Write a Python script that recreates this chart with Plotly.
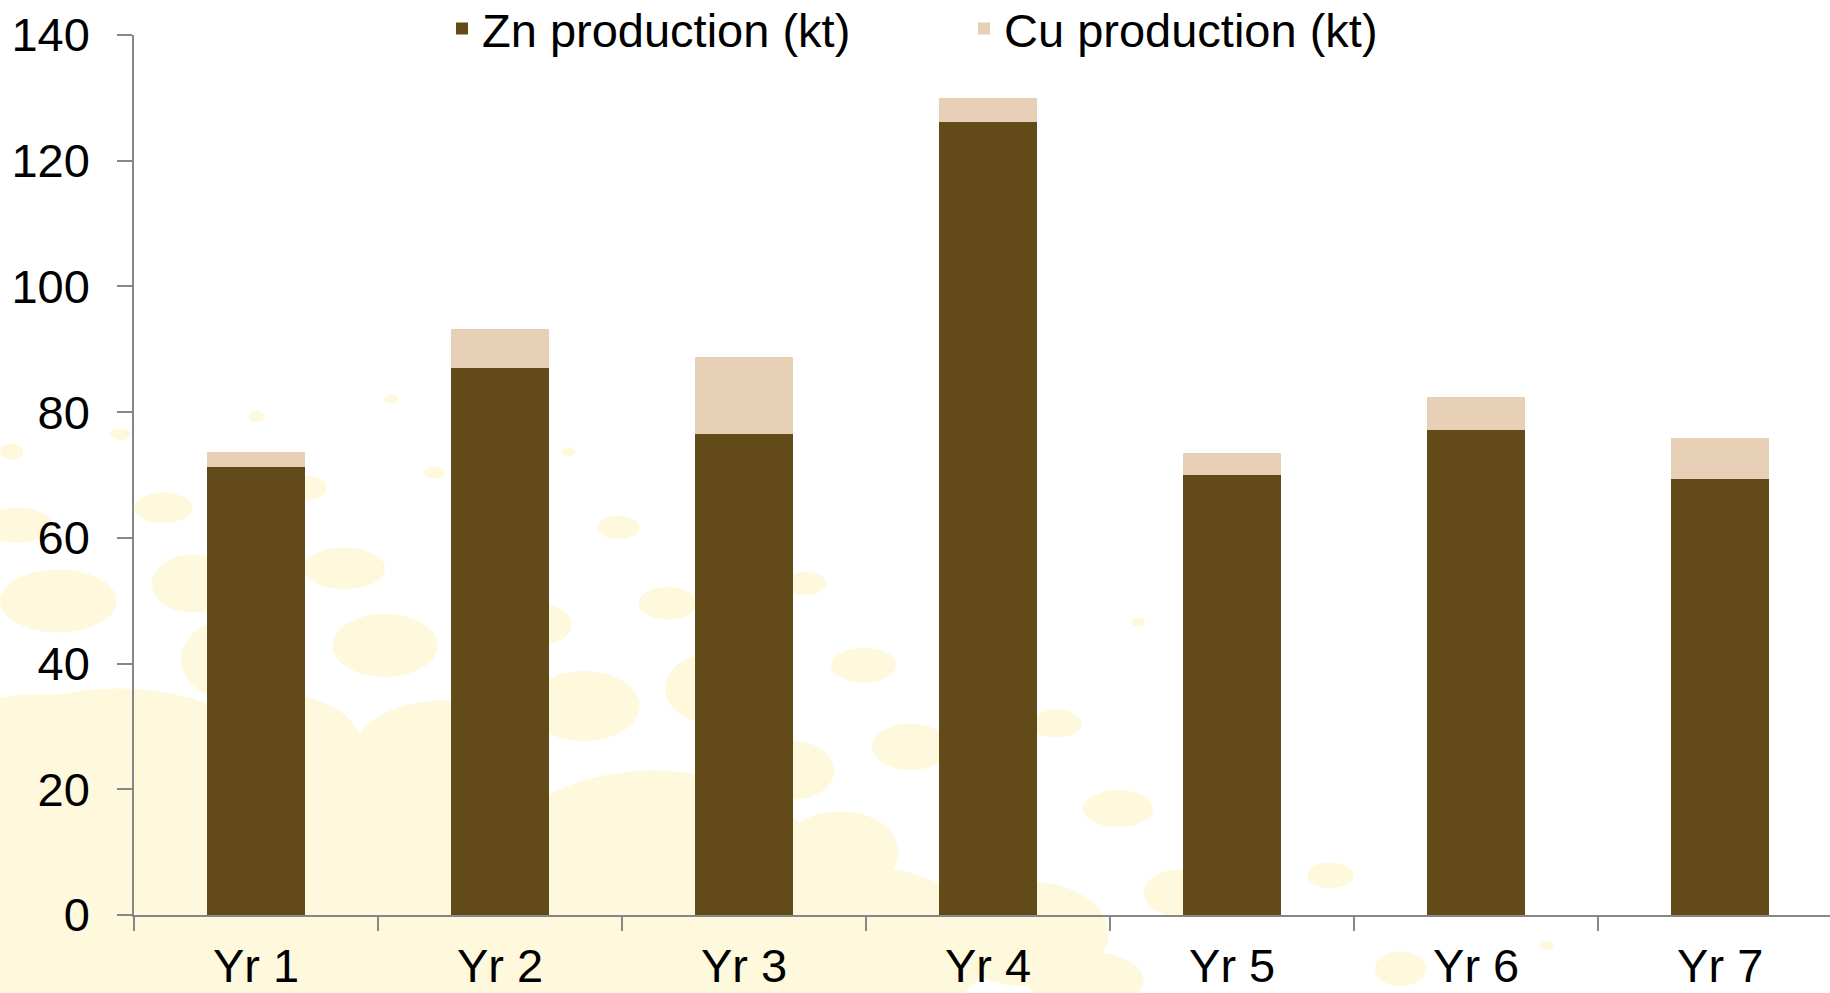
import plotly.graph_objects as go

categories = ["Yr 1", "Yr 2", "Yr 3", "Yr 4", "Yr 5", "Yr 6", "Yr 7"]
zn_production = [71.3, 87.1, 76.5, 126.1, 70.0, 77.2, 69.4]
cu_production = [2.4, 6.1, 12.2, 3.9, 3.5, 5.2, 6.5]

ZN_COLOR = "#634A19"
CU_COLOR = "#E8D0B6"
AXIS_COLOR = "#878787"
FONT = "Liberation Sans, Arial, sans-serif"

W, H = 1830, 993
ML, MR, MT, MB = 134, 0, 35, 78
PW, PH = W - ML - MR, H - MT - MB

fig = go.Figure()
fig.add_trace(go.Bar(x=categories, y=zn_production, name="Zn production (kt)",
                     marker=dict(color=ZN_COLOR, line=dict(width=0)), legend="legend",
                     showlegend=True))
fig.add_trace(go.Bar(x=categories, y=cu_production, name="Cu production (kt)",
                     marker=dict(color=CU_COLOR, line=dict(width=0)), legend="legend2",
                     showlegend=True))

# decorative background bubbles (page pixel coords at 1568-wide scale: cx, cy, rx, ry)
bubbles = [
    (100, 770, 210, 180), (330, 770, 150, 140), (560, 780, 160, 120), (720, 810, 130, 70),
    (30, 650, 90, 55), (380, 650, 80, 50), (240, 640, 70, 45), (880, 800, 70, 45),
    (140, 435, 25, 13), (295, 487, 35, 18), (50, 515, 50, 27), (165, 500, 35, 25),
    (330, 553, 45, 27), (460, 535, 30, 18), (530, 452, 18, 10), (572, 517, 25, 14),
    (690, 500, 18, 10), (740, 570, 28, 15), (200, 565, 45, 35), (500, 605, 48, 30),
    (610, 590, 40, 30), (780, 640, 33, 20), (905, 620, 22, 12), (958, 693, 30, 16),
    (1140, 750, 20, 11), (680, 660, 35, 25), (720, 730, 50, 35), (1010, 765, 30, 20),
    (1200, 830, 22, 15), (220, 357, 7, 5), (103, 372, 9, 5), (335, 342, 6, 4),
    (372, 405, 9, 5), (487, 387, 6, 4), (10, 387, 10, 7), (975, 533, 6, 4),
    (1325, 810, 6, 4), (265, 418, 15, 10), (15, 450, 30, 15), (930, 840, 50, 25),
]
S = W / 1568
shapes = []
for cx, cy, rx, ry in bubbles:
    x0 = (cx - rx) * S; x1 = (cx + rx) * S
    y0 = (cy - ry) * S; y1 = (cy + ry) * S
    shapes.append(dict(type="circle", xref="paper", yref="paper", layer="below",
                       x0=(x0 - ML) / PW, x1=(x1 - ML) / PW,
                       y0=(H - MB - y1) / PH, y1=(H - MB - y0) / PH,
                       fillcolor="#FEF9DC", line=dict(width=0)))

LEG_Y = (H - MB - 29) / PH

fig.update_layout(
    width=W, height=H,
    margin=dict(l=ML, r=MR, t=MT, b=MB, pad=0, autoexpand=False),
    barmode="stack", bargap=0.6,
    paper_bgcolor="white", plot_bgcolor="rgba(0,0,0,0)",
    font=dict(family=FONT, size=47, color="black"),
    shapes=shapes,
    showlegend=True,
    legend=dict(orientation="h", x=(442 - ML) / PW, xanchor="left",
                y=LEG_Y, yanchor="middle",
                bgcolor="rgba(0,0,0,0)", font=dict(size=47)),
    legend2=dict(orientation="h", x=(964 - ML) / PW, xanchor="left",
                 y=LEG_Y, yanchor="middle",
                 bgcolor="rgba(0,0,0,0)", font=dict(size=47)),
    xaxis=dict(range=[-0.5, 6.45], showline=True, linecolor=AXIS_COLOR, linewidth=2,
               ticks="outside", tickson="boundaries", ticklen=14, tickcolor=AXIS_COLOR,
               tickwidth=1.5, showgrid=False, zeroline=False, ticklabelstandoff=9,
               automargin=False),
    yaxis=dict(range=[0, 140], dtick=20, showline=True, linecolor=AXIS_COLOR, linewidth=1.5,
               ticks="outside", ticklen=15, tickcolor=AXIS_COLOR, tickwidth=1.5,
               showgrid=False, zeroline=False, ticklabelstandoff=18, automargin=False),
)

fig.write_html("out.html")
